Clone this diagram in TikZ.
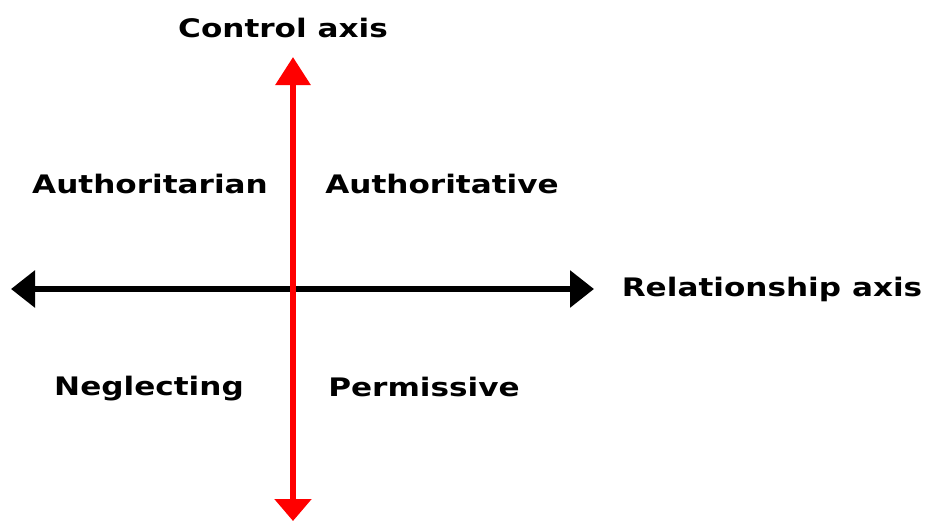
\documentclass[tikz,border=0pt]{standalone}
\usepackage{fontspec}
\setmainfont{DejaVu Sans}[FakeStretch=1.22]
\usetikzlibrary{arrows.meta}
\tikzset{
  lab/.style={font=\bfseries\fontsize{25.5}{28}\selectfont, inner sep=0pt, anchor=center},
  bothaxis/.style={line width=6pt, {Triangle[length=24pt,width=36pt]}-{Triangle[length=24pt,width=36pt]}}
}
\begin{document}
\begin{tikzpicture}[x=1pt,y=-1pt]
\useasboundingbox[fill=white] (0,0) rectangle (926,522);
\coordinate (L) at (11,289);
\coordinate (R) at (594,289);
\coordinate (T) at (293,57);
\coordinate (B) at (293,521);
\draw[bothaxis, black] (L) -- (R);
\draw[bothaxis, red, {Triangle[length=28pt,width=34pt]}-{Triangle[length=22pt,width=36pt]}] (T) -- (B);
\node[lab] (ctl) at (283,28) {Control axis};
\node[lab] (rel) at (772,289) {Relationship axis};
\node[lab] (ar) at (150,184) {Authoritarian};
\node[lab] (av) at (442,184) {Authoritative};
\node[lab] (ng) at (149,389) {Neglecting};
\node[lab] (pm) at (424,387) {Permissive};
\end{tikzpicture}
\end{document}
